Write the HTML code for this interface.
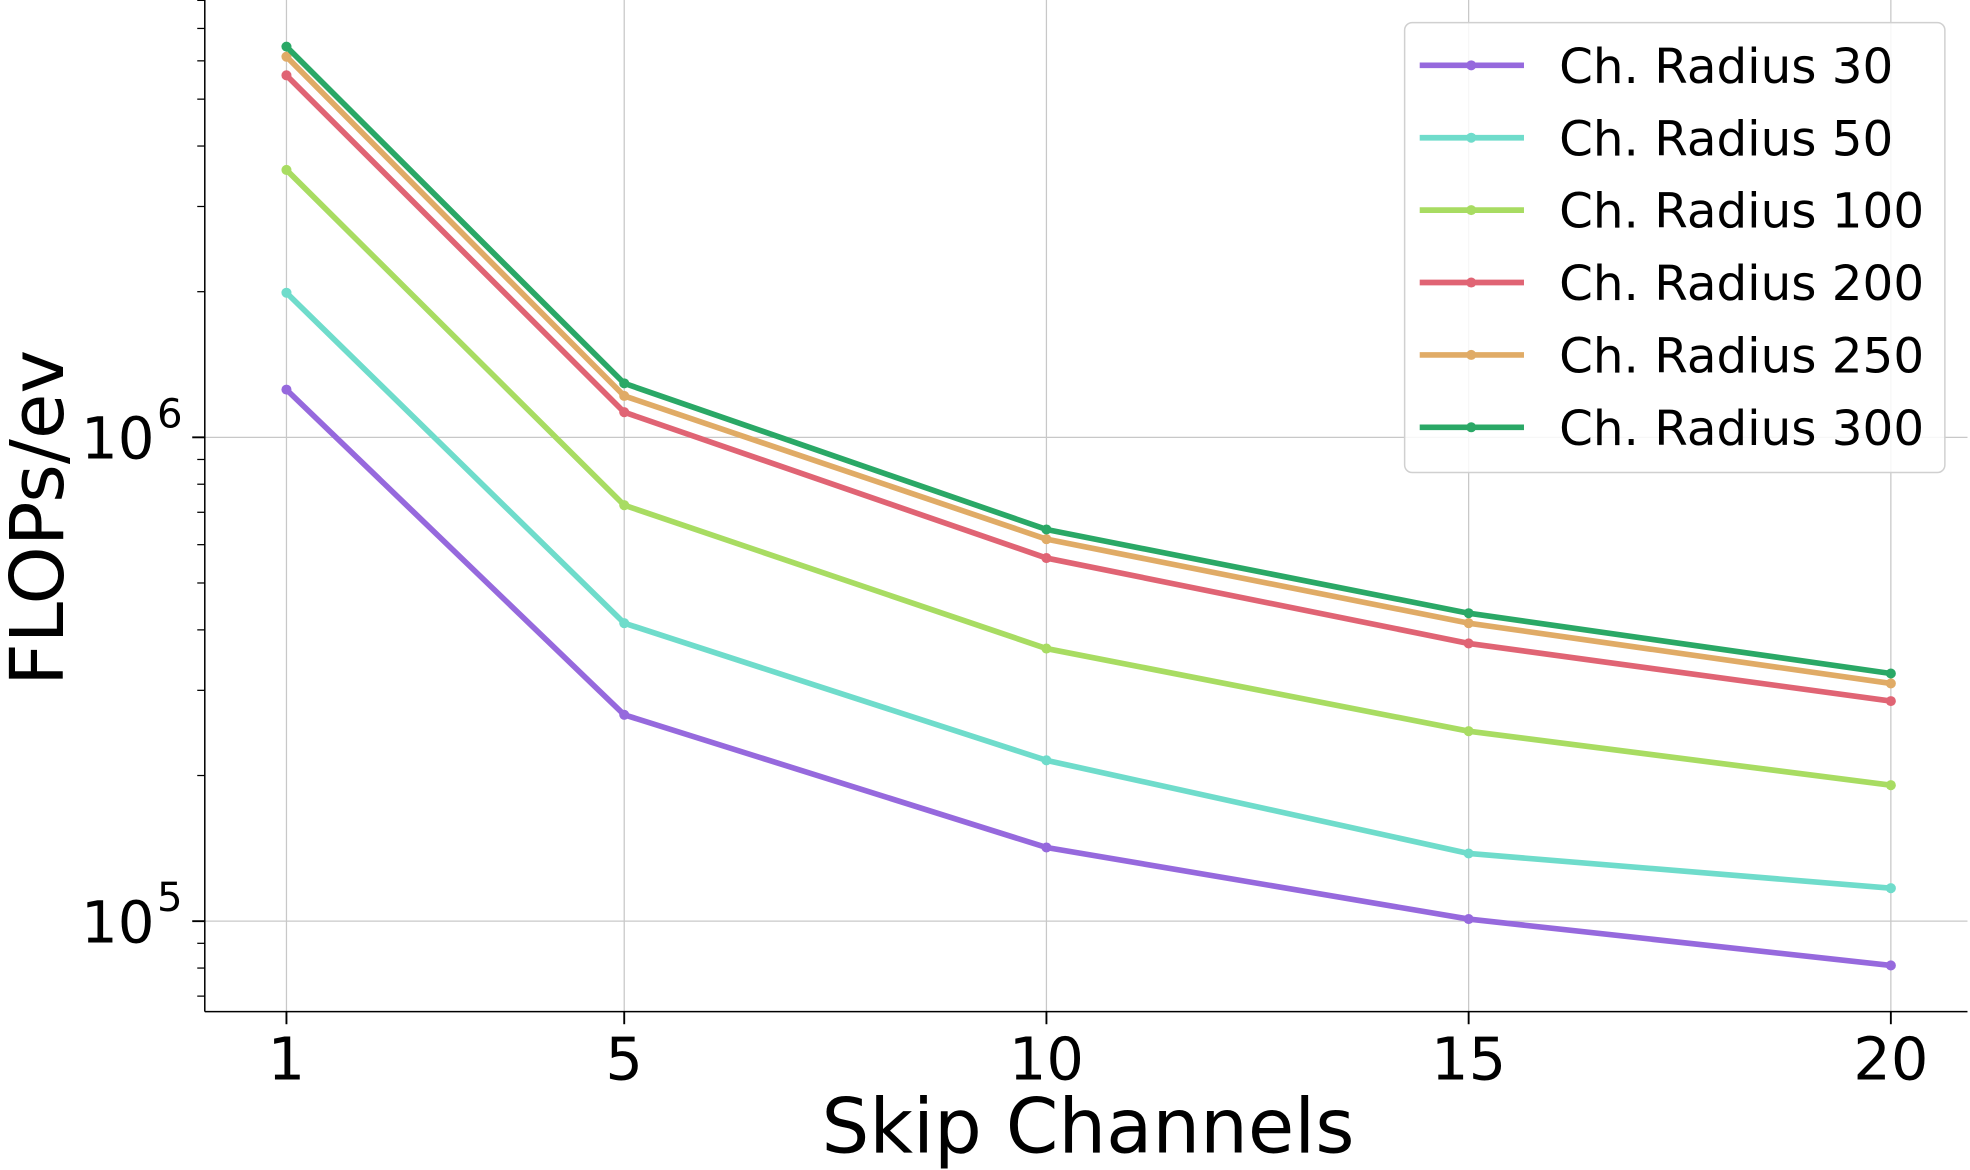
<!DOCTYPE html>
<html><head><meta charset="utf-8"><style>
html,body{margin:0;padding:0;background:#fff;}
svg{display:block;font-family:"DejaVu Sans","Liberation Sans",sans-serif;}
</style></head><body>
<svg id="chart" width="1970" height="1170" viewBox="0 0 1568 931" preserveAspectRatio="none" xmlns="http://www.w3.org/2000/svg">
<g id="grid"></g>
<g id="axes"></g>
<g id="series"></g>
<g id="legend"></g>
<text x="866" y="917" font-size="60" text-anchor="middle">Skip Channels</text>
<text transform="translate(50,412) rotate(-90)" font-size="59" text-anchor="middle">FLOPs/ev</text>
</svg>
<script>
const categories = [1, 5, 10, 15, 20];
const seriesNames = ["Ch. Radius 30","Ch. Radius 50","Ch. Radius 100","Ch. Radius 200","Ch. Radius 250","Ch. Radius 300"];
const r30 = [1.255e6, 2.67e5, 1.42e5, 1.01e5, 8.1e4];
const r50 = [1.99e6, 4.13e5, 2.15e5, 1.38e5, 1.17e5];
const r100 = [3.57e6, 7.24e5, 3.66e5, 2.47e5, 1.91e5];
const r200 = [5.6e6, 1.127e6, 5.63e5, 3.75e5, 2.85e5];
const r250 = [6.12e6, 1.218e6, 6.16e5, 4.13e5, 3.10e5];
const r300 = [6.42e6, 1.293e6, 6.45e5, 4.33e5, 3.25e5];
const colors = ["#9669dd","#6fdccb","#a8dc62","#e06474","#e0ab66","#2aa866"];
const xTicks = [1, 5, 10, 15, 20];
const yMajor = [1e5, 1e6];
const yMajorLabels = ["5","6"];

const NS="http://www.w3.org/2000/svg";
const L=163,R=1566,T=0,B=805;
function xs(v){return 228+(v-1)*(1505-228)/19;}
function ys(v){return 348-(Math.log10(v)-6)*385;}
function mk(tag,attrs,parent){const e=document.createElementNS(NS,tag);for(const k in attrs)e.setAttribute(k,attrs[k]);parent.appendChild(e);return e;}
const grid=document.getElementById('grid'),axes=document.getElementById('axes'),ser=document.getElementById('series'),leg=document.getElementById('legend');

xTicks.forEach(t=>{
  const g=mk('line',{x1:xs(t),x2:xs(t),y1:T,y2:B,stroke:'#c8c8c8','stroke-width':1},grid);
  
  
  const tk=mk('line',{x1:xs(t),x2:xs(t),y1:B,y2:B+10,stroke:'#000','stroke-width':1.5},axes);
  
  
  const tx=mk('text',{x:xs(t),y:859,'font-size':47,'text-anchor':'middle'},axes);
  tx.textContent=t;
  
  
});
yMajor.forEach((v,i)=>{
  const y=ys(v);
  const g=mk('line',{x1:L,x2:R,y1:y,y2:y,stroke:'#c8c8c8','stroke-width':1},grid);
  
  
  const tk=mk('line',{x1:L-10,x2:L,y1:y,y2:y,stroke:'#000','stroke-width':1.5},axes);
  
  
  const tx=mk('text',{x:L-40,y:y+17,'font-size':46,'text-anchor':'end'},axes);
  tx.textContent='10';
  
  
  const sp=mk('text',{x:L-38,y:y-8,'font-size':32,'text-anchor':'start'},axes);
  sp.textContent=yMajorLabels[i];
  
  
});
for(let d=4;d<=6;d++){for(let m=2;m<=9;m++){const v=m*Math.pow(10,d);const y=ys(v);if(y<T||y>B)continue;
  const tk=mk('line',{x1:L-6,x2:L,y1:y,y2:y,stroke:'#000','stroke-width':1},axes);
  
  }}
const ls=mk('line',{x1:L,x2:L,y1:T,y2:B,stroke:'#000','stroke-width':1.2},axes);


const bs=mk('line',{x1:L,x2:R,y1:B,y2:B,stroke:'#000','stroke-width':1.2},axes);



const all=[r30,r50,r100,r200,r250,r300];
all.forEach((vals,si)=>{
  const pts=vals.map((v,i)=>xs(categories[i])+','+ys(v)).join(' ');
  const pl=mk('polyline',{points:pts,fill:'none',stroke:colors[si],'stroke-width':4.5,'stroke-linejoin':'round'},ser);
  
  
  vals.forEach((v,i)=>{
    const c=mk('circle',{cx:xs(categories[i]),cy:ys(v),r:4,fill:colors[si]},ser);
    
    
  });
});

const box=mk('rect',{x:1118,y:18,width:430,height:358,rx:6,fill:'#fff','fill-opacity':0.85,stroke:'#d0d0d0','stroke-width':1.2},leg);


seriesNames.forEach((n,i)=>{
  const y=52+i*57.6;
  const l=mk('line',{x1:1130,x2:1213,y1:y,y2:y,stroke:colors[i],'stroke-width':4.5},leg);
  
  
  const c=mk('circle',{cx:1171,cy:y,r:4,fill:colors[i]},leg);
  
  
  const t=mk('text',{x:1241,y:y+14,'font-size':38.5},leg);
  t.textContent=n;
  
  
});
</script>
</body></html>
